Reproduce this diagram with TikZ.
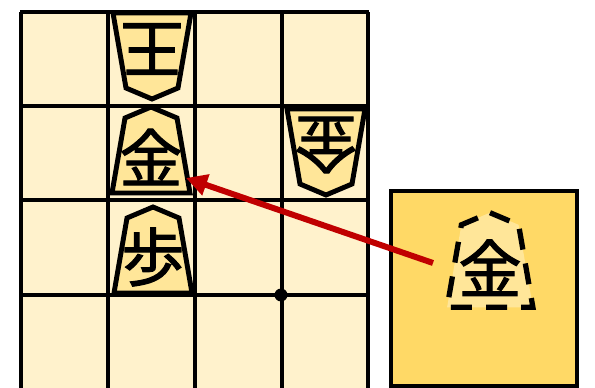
\documentclass[tikz,border=0pt]{standalone}
\usepackage{fontspec}
\newfontfamily\cjk[FakeBold=1.6]{Noto Sans CJK JP}
\usetikzlibrary{arrows.meta}
\definecolor{boardbg}{HTML}{FFF2CC}
\definecolor{piecebg}{HTML}{FFE699}
\definecolor{handbg}{HTML}{FFD966}
\definecolor{movered}{HTML}{C00000}

\tikzset{
  gridline/.style={line width=2.4pt, draw=black},
  koma/.style={fill=piecebg, draw=black, line width=2.8pt, line join=miter},
  komachar/.style={font=\cjk\fontsize{36}{36}\selectfont, inner sep=0pt},
  ghost/.style={fill=piecebg, draw=black, line width=3pt, dash pattern=on 12pt off 8pt},
}

% one piece: name, x, y, turn, character
\newcommand\koma[5]{%
  \begin{scope}[shift={(#2,#3)}, rotate=#4]
    \draw[koma] (0,-43) -- (26,-32) -- (39,43) -- (-39,43) -- (-26,-32) -- cycle;
    \node[komachar, rotate=#4] (#1) at (0,7) {#5};
  \end{scope}}

\begin{document}
\begin{tikzpicture}[x=0.02cm, y=-0.02cm]
  \useasboundingbox (0,0) rectangle (595,388);
  \begin{scope}
    \clip (0,0) rectangle (595,388);
    % board
    \fill[boardbg] (21,12) rectangle (368,400);
    \foreach \x in {21,108,195,282,368}
      \draw[gridline] (\x,12) -- (\x,400);
    \foreach \y in {12,106,200,295}
      \draw[gridline] (19.8,\y) -- (369.2,\y);
    \fill (281,295) circle (6.5);

    % pieces on the board
    \koma{king}{152}{56}{180}{王}
    \koma{gold}{151}{150}{0}{金}
    \koma{opgold}{326}{152}{180}{金}
    \koma{pawn}{153}{250}{0}{歩}

    % piece in hand
    \draw[gridline, fill=handbg] (391,191) rectangle (577,386);
    \begin{scope}[shift={(490,260)}, scale=1.1]
      \draw[ghost] (0,-43) -- (26,-32) -- (39,43) -- (-39,43) -- (-26,-32) -- cycle;
      \node[komachar] (drop) at (0,7) {金};
    \end{scope}
  \end{scope}

  % the drop
  \coordinate (tail) at (433,263);
  \coordinate (tip) at (186,178);
  \draw[movered, line width=3.4pt, -{Triangle[length=12pt,width=12pt]}] (tail) -- (tip);
\end{tikzpicture}
\end{document}
